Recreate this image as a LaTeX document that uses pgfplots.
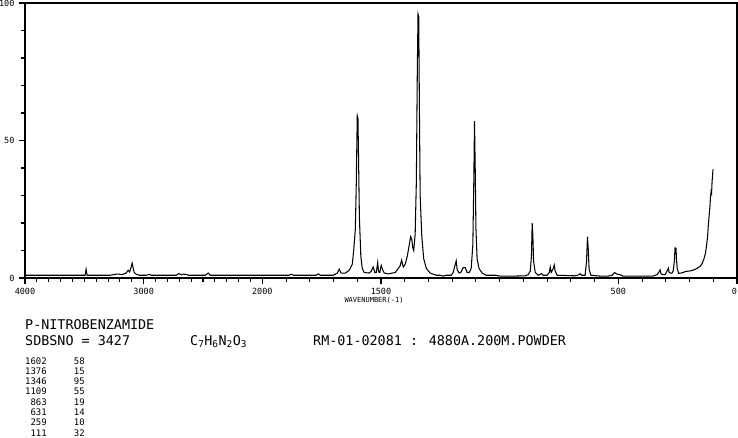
\documentclass[border=0pt]{standalone}
\usepackage{pgfplots}
\pgfplotsset{compat=1.18}
\usepackage{pgfplotstable}
\usepackage{fontspec}
\setmainfont{DejaVu Sans Mono}
\newfontfamily\dmono{DejaVu Sans Mono}

\pgfplotstableread{
wn I
4000 1.0
3536 1.0
3494 1.0
3485 3.2
3477 1.0
3283 1.0
3232 1.4
3207 1.4
3181 1.2
3148 1.8
3131 2.8
3118 2.2
3105 4.0
3097 5.4
3088 3.5
3080 2.0
3063 1.4
3038 1.0
2979 1.0
2949 1.3
2937 1.0
2726 1.0
2705 1.6
2683 1.2
2666 1.4
2641 1.3
2624 1.0
2481 1.0
2456 1.8
2439 1.0
2017 1.0
2000 1.0
1886 1.0
1878 1.4
1869 1.0
1773 1.0
1764 1.5
1756 1.0
1701 1.0
1684 1.8
1676 3.2
1668 1.8
1650 1.8
1634 2.8
1621 5.0
1615 10
1608 18
1604 35
1600 59
1597 58
1594 40
1591 22
1585 8
1579 3.5
1571 2.0
1550 1.8
1541 2.5
1533 4.0
1526 2.0
1520 2.0
1514 5.6
1510 2.2
1505 2.0
1499 4.6
1493 3.0
1486 1.8
1469 1.5
1440 2.0
1427 3.5
1419 4.5
1413 6.5
1406 4.0
1398 5.0
1389 8.0
1381 12
1375 15
1370 14
1366 11
1362 10
1356 16
1351 35
1347 75
1344 96
1341 95
1338 60
1335 30
1328 15
1320 7
1309 3.5
1293 1.8
1267 1.0
1250 1.0
1238 0.7
1225 1.0
1204 1.0
1196 2.0
1187 5.0
1183 6.2
1179 3.0
1171 1.8
1162 2.2
1154 3.8
1145 3.8
1137 2.0
1128 2.0
1120 3.5
1113 12
1109 35
1106 57
1103 40
1100 18
1095 7
1087 3.5
1074 1.8
1057 1.0
1019 1.0
998 0.7
935 0.7
893 0.8
880 1.2
871 2.5
866 8
863 20
860 15
857 6
850 2.0
838 1.0
823 1.6
817 1.0
800 1.0
791 2.0
787 4.0
783 2.0
774 3.5
770 4.7
766 2.5
758 1.0
682 0.8
665 1.2
661 1.6
655 1.0
640 1.0
634 6
630 15
627 11
623 3.0
615 1.0
577 0.7
543 0.7
526 1.0
516 2.0
505 1.4
493 1.2
480 0.7
450 0.7
354 0.7
345 1.0
337 1.2
328 2.3
324 3.0
320 1.5
311 1.2
303 1.2
295 2.5
289 3.6
286 2.0
280 1.8
274 1.8
269 2.5
264 6
261 11
257 10.8
255 7
252 3.5
246 1.7
236 1.8
227 2.0
219 2.3
206 2.5
194 2.6
181 3.0
168 3.5
156 4.2
147 5.2
139 7.0
133 9.0
128 12
124 15
121 19
118 22
114 26
112 29
109 31.5
107 31
105 35
101 39.5
}\spec

\begin{document}
\begin{tikzpicture}[x=1pt,y=1pt]
\path[use as bounding box] (0,0) rectangle (738,437);
\begin{axis}[
  at={(25pt,159pt)}, anchor=south west,
  width=712pt, height=275pt, scale only axis,
  xmin=0, xmax=3000, x dir=reverse,
  ymin=0, ymax=100,
  axis line style={line width=1.1pt},
  tick style={line width=1.1pt, black},
  tick align=outside,
  xtick pos=bottom, ytick pos=left,
  major tick length=6pt, minor tick length=4pt,
  xtick={0,500,1500,2000,2500,3000},
  xticklabels={\makebox[0pt][r]{0},500,1500,2000,3000,4000},
  minor xtick={100,200,300,400,600,700,800,900,1000,1100,1200,1300,1400,1600,1700,1800,1900,2050,2100,2150,2200,2250,2300,2350,2400,2450,2550,2600,2650,2700,2750,2800,2850,2900,2950},
  ytick={0,50,100},
  minor ytick={10,20,30,40,60,70,80,90},
  /pgf/number format/assume math mode=true,
  xticklabel style={font=\dmono\fontsize{8.5}{9}\selectfont, anchor=north, yshift=-1pt},
  yticklabel style={font=\dmono\fontsize{8.5}{9}\selectfont, anchor=east, xshift=-1pt},
  clip=false,
]
\addplot[black, line width=1.05pt, mark=none]
  table[x expr={\thisrow{wn}>2000 ? 2000+(\thisrow{wn}-2000)/2 : \thisrow{wn}}, y=I] {\spec};
\end{axis}
\node[font=\dmono\fontsize{7}{7}\selectfont, anchor=center] at (374,137) {WAVENUMBER(-1)};
\node[font=\dmono\fontsize{13.4}{14}\selectfont, anchor=base west, inner sep=0pt] at (25,107.5) {P-NITROBENZAMIDE};
\node[font=\dmono\fontsize{13.4}{14}\selectfont, anchor=base west, inner sep=0pt] at (25,91.5) {SDBSNO = 3427};
\node[font=\dmono\fontsize{13.4}{14}\selectfont, anchor=base west, inner sep=0pt] at (190,91.5) {C\textsubscript{7}H\textsubscript{6}N\textsubscript{2}O\textsubscript{3}};
\node[font=\dmono\fontsize{13.4}{14}\selectfont, anchor=base west, inner sep=0pt] at (313,91.5) {RM-01-02081 : 4880A.200M.POWDER};
\foreach \a/\b [count=\i from 0] in {1602/58,1376/15,1346/95,1109/55,863/19,631/14,259/10,111/32}{
  \node[font=\dmono\fontsize{9}{10}\selectfont, anchor=base east, inner sep=0pt] at (47,73-10.3*\i) {\a};
  \node[font=\dmono\fontsize{9}{10}\selectfont, anchor=base east, inner sep=0pt] at (85,73-10.3*\i) {\b};
}
\end{tikzpicture}
\end{document}
